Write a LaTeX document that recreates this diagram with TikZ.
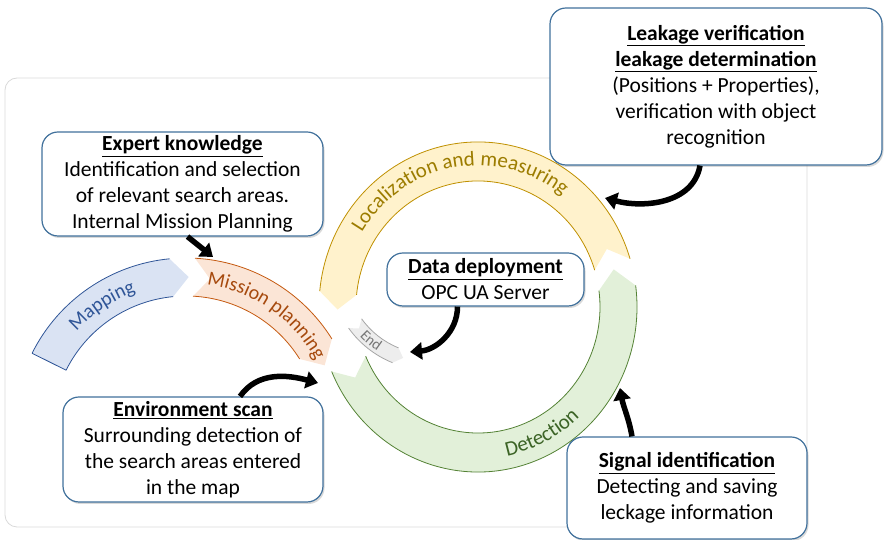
\documentclass[tikz,border=0pt]{standalone}
\usepackage{fontspec}
\setmainfont{Carlito}
\usetikzlibrary{arrows.meta, shadows, decorations.text}

\definecolor{boxline}{HTML}{41719C}
\definecolor{framegray}{HTML}{D9D9D9}
\definecolor{mapfill}{HTML}{DAE3F3}
\definecolor{mapline}{HTML}{2F5597}
\definecolor{mpfill}{HTML}{FBE5D6}
\definecolor{mpline}{HTML}{C55A11}
\definecolor{mptext}{HTML}{A64A0E}
\definecolor{locfill}{HTML}{FFF2CC}
\definecolor{locline}{HTML}{BF9000}
\definecolor{loctext}{HTML}{9C7C00}
\definecolor{detfill}{HTML}{E2F0D9}
\definecolor{detline}{HTML}{548235}
\definecolor{dettext}{HTML}{3B6325}
\definecolor{endfill}{HTML}{EDEDED}
\definecolor{endline}{HTML}{A6A6A6}
\definecolor{endtext}{HTML}{767676}

\begin{document}
\begin{tikzpicture}[x=1pt, y=1pt,
	box/.style={draw=boxline, line width=1.2pt, fill=white, rounded corners=16pt, align=center, inner sep=2pt,
		font=\fontsize{21.5}{26}\selectfont,
		drop shadow={shadow xshift=1.5pt, shadow yshift=-2pt, opacity=.3}},
	flow/.style={line width=5.5pt, -{Triangle[width=17pt, length=12pt]}}]
	\useasboundingbox (0, 0) rectangle (884, 540);

	% frame
	\draw[framegray, line width=.8pt, rounded corners=12pt] (5, 13) rectangle (807, 462);

	% \drawarc#start#end#tip#notch#fillcolor#linecolor
	\def\drawarc#1#2#3#4#5#6{
		\fill[#5] (#1:{\rxo} and {\ryo}) arc[start angle=#1, end angle=#2, x radius=\rxo, y radius=\ryo]
			-- (#3:{\rxm} and {\rym}) -- (#2:{\rxi} and {\ryi})
			arc[start angle=#2, end angle=#1, x radius=\rxi, y radius=\ryi]
			-- (#4:{\rxm} and {\rym}) -- cycle;
		\draw[#6, line width=.8pt] (#1:{\rxo} and {\ryo}) arc[start angle=#1, end angle=#2, x radius=\rxo, y radius=\ryo];
		\draw[#6, line width=.8pt] (#1:{\rxi} and {\ryi}) arc[start angle=#1, end angle=#2, x radius=\rxi, y radius=\ryi];
	}

	% \arclabel#start#end#xradius#yradius#textcolor#size#text
	\def\arclabel#1#2#3#4#5#6#7{
		\path[decorate, decoration={text along path, text align=center, text color=#5,
			text={|\fontsize{#6}{#6}\selectfont|#7}}]
			(#1:#3 and #4) arc[start angle=#1, end angle=#2, x radius=#3, y radius=#4];
	}

	% mapping and mission planning
	\begin{scope}[shift={(186, 110)}]
		\def\rxo{172} \def\ryo{172}
		\def\rxi{134} \def\ryi{134}
		\def\rxm{153} \def\rym{153}
		\drawarc{153.5}{95.5}{89}{153.5}{mapfill}{mapline}
		\draw[mapline, line width=.8pt] (153.5:{\rxo} and {\ryo}) -- (153.5:{\rxi} and {\ryi});
		\drawarc{87}{32}{25}{81}{mpfill}{mpline}
		\arclabel{150}{98}{147}{147}{mapline}{20}{Mapping}
		\arclabel{83}{27}{147}{147}{mptext}{20}{Mission planning}
	\end{scope}

	% search cycle
	\begin{scope}[shift={(478, 233)}]
		\def\rxo{159} \def\ryo{165}
		\def\rxi{122} \def\ryi{126}
		\def\rxm{140.5} \def\rym{145.5}
		\drawarc{17}{174.5}{181}{23.5}{locfill}{locline}
		\drawarc{203}{367.5}{375}{209}{detfill}{detline}
		\arclabel{155}{45}{136.5}{141.5}{loctext}{21}{Localization and measuring}
		\arclabel{270}{325}{147}{152}{dettext}{21}{Detection}
	\end{scope}

	% end
	\begin{scope}[shift={(430, 270)}]
		\def\rxo{100} \def\ryo{100}
		\def\rxi{84} \def\ryi{84}
		\def\rxm{92} \def\rym{92}
		\drawarc{215.5}{248}{253}{219.5}{endfill}{endline}
		\arclabel{213}{247}{96.5}{96.5}{endtext}{15}{End}
	\end{scope}

	% boxes
	\node[box, minimum width=281pt, minimum height=104pt] (expert) at (182.5, 356)
		{\underline{\textbf{Expert knowledge}}\\Identification and selection\\of relevant search areas.\\Internal Mission Planning};
	\node[box, minimum width=197pt, minimum height=53pt] (data) at (485.5, 260.5)
		{\underline{\textbf{Data deployment}}\\OPC UA Server};
	\node[box, minimum width=332pt, minimum height=157pt] (leak) at (716, 453.5)
		{\underline{\textbf{Leakage verification}}\\\underline{\textbf{leakage determination}}\\(Positions + Properties),\\verification with object\\recognition};
	\node[box, minimum width=260pt, minimum height=105pt] (env) at (193, 90.5)
		{\underline{\textbf{Environment scan}}\\Surrounding detection of\\the search areas entered\\in the map};
	\node[box, minimum width=240pt, minimum height=102pt] (signal) at (687, 52)
		{\underline{\textbf{Signal identification}}\\Detecting and saving\\leckage information};

	% arrows
	\coordinate (mpin) at (213, 283);
	\coordinate (locin) at (605, 342);
	\coordinate (endin) at (410, 188);
	\coordinate (detleft) at (318, 157);
	\coordinate (detright) at (620, 152);
	\draw[flow] ([xshift=5pt]expert.south) -- (mpin);
	\draw[flow] ([xshift=-16pt]leak.south) to[out=-100, in=-15] (locin);
	\draw[flow] ([xshift=-28pt]data.south) to[out=-90, in=5] (endin);
	\draw[flow] ([xshift=47pt]env.north) to[out=55, in=165] (detleft);
	\draw[flow] ([xshift=-55pt]signal.north) to[out=100, in=-80] (detright);
\end{tikzpicture}
\end{document}
